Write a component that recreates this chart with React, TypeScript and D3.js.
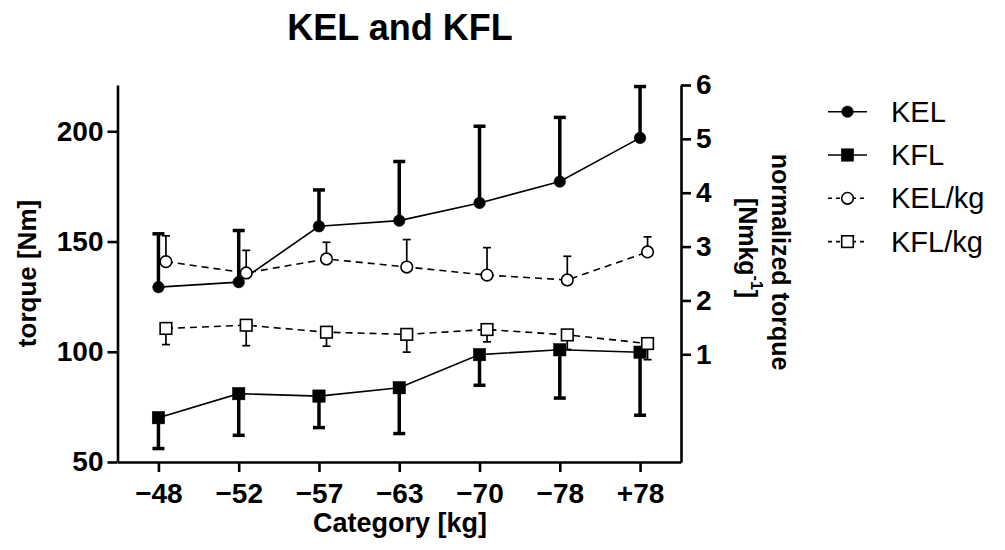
import React, { useEffect, useRef } from 'react';
import * as d3 from 'd3';

const categories = ['\u221248', '\u221252', '\u221257', '\u221263', '\u221270', '\u221278', '+78'];
const kelMean = [129.3, 131.6, 156.9, 159.5, 167.5, 177.2, 197.0];
const kelSd = [24.2, 23.4, 16.5, 26.8, 34.8, 29.1, 23.3];
const kflMean = [70.1, 81.0, 79.9, 83.7, 98.7, 100.9, 99.8];
const kflSd = [14.0, 18.9, 14.3, 20.8, 13.9, 21.9, 28.6];
const kelKgMean = [2.72, 2.51, 2.77, 2.62, 2.47, 2.38, 2.9];
const kelKgSd = [0.48, 0.42, 0.31, 0.51, 0.51, 0.44, 0.28];
const kflKgMean = [1.48, 1.54, 1.41, 1.37, 1.46, 1.36, 1.2];
const kflKgSd = [0.3, 0.38, 0.26, 0.33, 0.23, 0.27, 0.3];
const leftTicks = [50, 100, 150, 200];
const rightTicks = [1, 2, 3, 4, 5, 6];
const legendLabels = ['KEL', 'KFL', 'KEL/kg', 'KFL/kg'];

const FONT = '"Liberation Sans", Arial, Helvetica, sans-serif';

export default function App() {
  const ref = useRef<SVGSVGElement>(null);
  useEffect(() => {
    const svg = d3.select(ref.current as SVGSVGElement);
    svg.selectAll('*').remove();
    const x0 = 117.5, x1 = 681, yTop = 85, yBot = 462;
    const x = d3.scalePoint<string>().domain(categories).range([x0, x1]).padding(0.51);
    const yL = d3.scaleLinear().domain([50, 221]).range([yBot, yTop]);
    const yR = d3.scaleLinear().domain([-1, 6]).range([yBot, yTop]);
    const off = 7.5;

    // Title
    svg.append('text').attr('x', 400).attr('y', 40).attr('text-anchor', 'middle')
      .style('font-family', FONT).style('font-size', '36px').style('font-weight', 'bold').text('KEL and KFL');

    const styleAxis = (g: any) => {
      g.select('.domain').attr('stroke', '#000').attr('stroke-width', 2.6);
      g.selectAll('.tick line').attr('stroke', '#000').attr('stroke-width', 2.6);
      g.selectAll('.tick text').style('font-family', FONT).style('font-size', '28px').style('font-weight', 'bold').attr('fill', '#000');
    };

    const gL = svg.append('g').attr('transform', `translate(${x0},0)`)
      .call(d3.axisLeft(yL).tickValues(leftTicks).tickSize(10).tickSizeOuter(0).tickPadding(4) as any);
    styleAxis(gL);
    const gR = svg.append('g').attr('transform', `translate(${x1},0)`)
      .call(d3.axisRight(yR).tickValues(rightTicks).tickFormat(d3.format('d') as any).tickSize(10).tickSizeOuter(0).tickPadding(5) as any);
    styleAxis(gR);
    const gB = svg.append('g').attr('transform', `translate(0,${yBot})`)
      .call(d3.axisBottom(x).tickSize(10).tickSizeOuter(0).tickPadding(11) as any);
    styleAxis(gB);

    // axis titles
    svg.append('text').attr('transform', `translate(27,273.5) rotate(-90)`).attr('text-anchor', 'middle')
      .attr('dominant-baseline', 'central')
      .style('font-family', FONT).style('font-size', '26px').style('font-weight', 'bold').text('torque [Nm]');
    svg.append('text').attr('x', 400).attr('y', 532).attr('text-anchor', 'middle')
      .style('font-family', FONT).style('font-size', '27px').style('font-weight', 'bold').text('Category [kg]');
    svg.append('text').attr('transform', `translate(781,262) rotate(90)`).attr('text-anchor', 'middle')
      .attr('dominant-baseline', 'central')
      .style('font-family', FONT).style('font-size', '25px').style('font-weight', 'bold').text('normalized torque');
    const t2 = svg.append('text').attr('transform', `translate(748,248) rotate(90)`).attr('text-anchor', 'middle')
      .attr('dominant-baseline', 'central')
      .style('font-family', FONT).style('font-size', '25px').style('font-weight', 'bold');
    t2.append('tspan').text('[Nmkg');
    t2.append('tspan').attr('dy', -9).style('font-size', '16px').text('-1');
    t2.append('tspan').attr('dy', 9).text(']');

    type Series = { mean: number[]; sd: number[]; y: any; dx: number; dir: number; filled: boolean; shape: string; dash: string | null; barW: number; cap: number };
    const series: Series[] = [
      { mean: kelMean, sd: kelSd, y: yL, dx: 0, dir: 1, filled: true, shape: 'circle', dash: null, barW: 3.5, cap: 12 },
      { mean: kflMean, sd: kflSd, y: yL, dx: 0, dir: -1, filled: true, shape: 'square', dash: null, barW: 3.5, cap: 12 },
      { mean: kelKgMean, sd: kelKgSd, y: yR, dx: off, dir: 1, filled: false, shape: 'circle', dash: '7,5', barW: 1.7, cap: 8 },
      { mean: kflKgMean, sd: kflKgSd, y: yR, dx: off, dir: -1, filled: false, shape: 'square', dash: '7,5', barW: 1.7, cap: 8 },
    ];

    const drawMarker = (g: any, cx: number, cy: number, s: Series | { filled: boolean; shape: string }) => {
      if (s.shape === 'circle') {
        g.append('circle').attr('cx', cx).attr('cy', cy).attr('r', 5.8)
          .attr('fill', s.filled ? '#000' : '#fff').attr('stroke', '#000').attr('stroke-width', s.filled ? 0.5 : 1.6);
      } else {
        const h = s.filled ? 6.2 : 5.8;
        g.append('rect').attr('x', cx - h).attr('y', cy - h).attr('width', 2 * h).attr('height', 2 * h)
          .attr('fill', s.filled ? '#000' : '#fff').attr('stroke', '#000').attr('stroke-width', s.filled ? 0.5 : 1.6);
      }
    };

    series.forEach((s) => {
      const g = svg.append('g');
      s.mean.forEach((m, i) => {
        const cx = (x(categories[i]) as number) + s.dx;
        const yEnd = s.y(m + s.dir * s.sd[i]);
        g.append('line').attr('x1', cx).attr('x2', cx).attr('y1', s.y(m)).attr('y2', yEnd)
          .attr('stroke', '#000').attr('stroke-width', s.barW);
        g.append('line').attr('x1', cx - s.cap / 2).attr('x2', cx + s.cap / 2).attr('y1', yEnd).attr('y2', yEnd)
          .attr('stroke', '#000').attr('stroke-width', s.barW);
      });
      const line = d3.line<number>().x((_, i) => (x(categories[i]) as number) + s.dx).y((d) => s.y(d));
      g.append('path').attr('d', line(s.mean)).attr('fill', 'none').attr('stroke', '#000')
        .attr('stroke-width', 1.6).attr('stroke-dasharray', s.dash ?? null);
      s.mean.forEach((m, i) => drawMarker(g, (x(categories[i]) as number) + s.dx, s.y(m), s));
    });

    // legend
    const lg = svg.append('g');
    legendLabels.forEach((lab, i) => {
      const s = series[i];
      const ly = 111.7 + i * 43.3;
      lg.append('line').attr('x1', 828).attr('x2', 867).attr('y1', ly).attr('y2', ly)
        .attr('stroke', '#000').attr('stroke-width', 1.6).attr('stroke-dasharray', s.dash ? '4,4' : null);
      drawMarker(lg, 847.5, ly, s);
      lg.append('text').attr('x', 891).attr('y', ly).attr('dominant-baseline', 'central')
        .style('font-family', FONT).style('font-size', '29px').text(lab);
    });
  }, []);
  return <svg ref={ref} width={1005} height={550} style={{ position: 'absolute', left: 0, top: 0, background: '#fff' }} />;
}
